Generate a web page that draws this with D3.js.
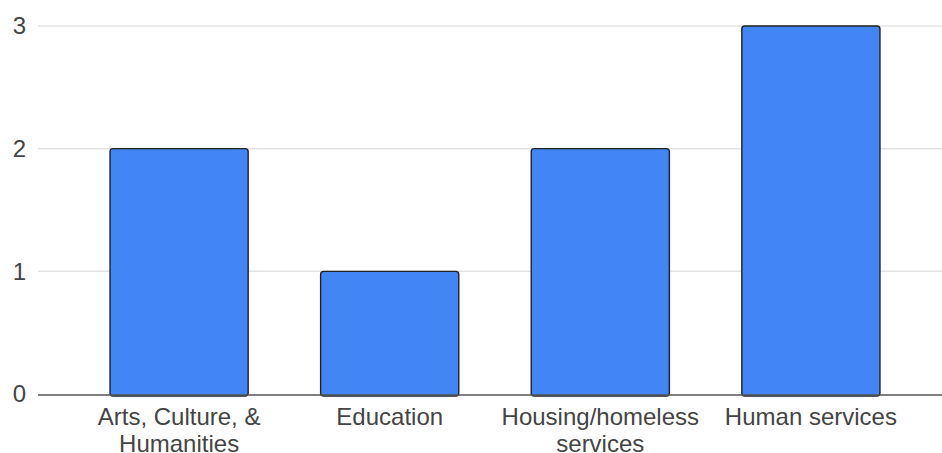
<!DOCTYPE html>
<html>
<head>
<meta charset="utf-8">
<script src="https://cdn.jsdelivr.net/npm/d3@7"></script>
<style>
  body { margin: 0; background: #fff; }
  svg { display: block; font-family: "Liberation Sans", Arial, sans-serif; }
</style>
</head>
<body>
<svg id="chart" width="942" height="453"></svg>
<script>
const categories = ["Arts, Culture, & Humanities", "Education", "Housing/homeless services", "Human services"];
const values = [2, 1, 2, 3];
const yTicks = [0, 1, 2, 3];

const W = 942, H = 453;
const svg = d3.select("#chart");
const plotLeft = 38, plotRight = 952, plotTop = 26, plotBottom = 394;

const x = d3.scaleBand().domain(categories).range([plotLeft, plotRight]).paddingInner(0.344).paddingOuter(0.342);
const y = d3.scaleLinear().domain([0, 3]).range([plotBottom, plotTop]);

// gridlines
svg.append("g").selectAll("line").data(yTicks.filter(d => d !== 0)).join("line")
  .attr("x1", plotLeft).attr("x2", W)
  .attr("y1", d => y(d)).attr("y2", d => y(d))
  .attr("stroke", "#e3e3e3").attr("stroke-width", 1.5);

// y axis labels
const yAxis = d3.axisLeft(y).tickValues(yTicks).tickSize(0).tickPadding(0).tickFormat(d3.format("d"));
const ya = svg.append("g").attr("transform", `translate(26,0)`).call(yAxis);
ya.select(".domain").remove();
ya.selectAll("text").attr("font-size", 24).attr("fill", "#444").attr("font-family", "Liberation Sans, Arial, sans-serif");

// bars
svg.append("g").selectAll("rect").data(values).join("rect")
  .attr("x", (d, i) => x(categories[i]))
  .attr("y", d => y(d))
  .attr("width", x.bandwidth())
  .attr("height", d => y(0) - y(d) + 2)
  .attr("rx", 3)
  .attr("fill", "#4285f4")
  .attr("stroke", "#222")
  .attr("stroke-width", 1.4);

// baseline
svg.append("line").attr("x1", plotLeft).attr("x2", W).attr("y1", y(0) + 1).attr("y2", y(0) + 1)
  .attr("stroke", "#555").attr("stroke-width", 1.5);

// x axis labels
const xAxis = d3.axisBottom(x).tickSize(0).tickPadding(0);
const xa = svg.append("g").attr("transform", `translate(0,425)`).call(xAxis);
xa.select(".domain").remove();
xa.selectAll("text").attr("font-size", 24).attr("fill", "#444").attr("dy", 0).attr("y", 0)
  .attr("font-family", "Liberation Sans, Arial, sans-serif")
  .each(function(d) {
    const t = d3.select(this);
    const words = d.split(" ");
    t.text(null);
    let line = [];
    let ts = t.append("tspan").attr("x", 0).attr("dy", 0);
    for (const w of words) {
      line.push(w);
      ts.text(line.join(" "));
      if (ts.node().getComputedTextLength() > 205 && line.length > 1) {
        line.pop();
        ts.text(line.join(" "));
        line = [w];
        ts = t.append("tspan").attr("x", 0).attr("dy", 27).text(w);
      }
    }
  });
</script>
</body>
</html>
